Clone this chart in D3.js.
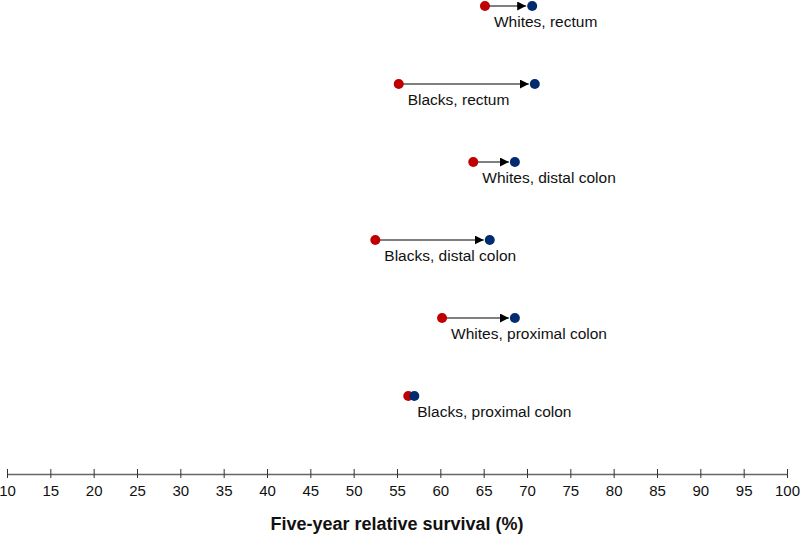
<!DOCTYPE html>
<html><head><meta charset="utf-8">
<script src="https://cdn.jsdelivr.net/npm/d3@7"></script>
<style>body{margin:0;background:#fff;}svg{display:block;font-family:"Liberation Sans",Arial,sans-serif;}</style>
</head><body><svg id="c" width="800" height="538"></svg>
<script>
const categories = ["Whites, rectum","Blacks, rectum","Whites, distal colon","Blacks, distal colon","Whites, proximal colon","Blacks, proximal colon"];
const startValues = [65.15, 55.2, 63.8, 52.5, 60.2, 56.3];
const endValues = [70.6, 70.9, 68.6, 65.7, 68.6, 57.0];
const tickValues = [10,15,20,25,30,35,40,45,50,55,60,65,70,75,80,85,90,95,100];
const axisTitle = "Five-year relative survival (%)";

const svg = d3.select("#c");
const x = d3.scaleLinear().domain([10,100]).range([7,787]);
const y = d3.scalePoint().domain(categories).range([6,396]);
const red = "#c00000", blue = "#002b6f";

svg.append("defs").append("marker").attr("id","ah").attr("viewBox","0 0 10 10")
  .attr("refX",10).attr("refY",5).attr("markerWidth",9).attr("markerHeight",9)
  .attr("markerUnits","userSpaceOnUse").attr("orient","auto")
  .append("path").attr("d","M0,0L10,5L0,10Z").attr("fill","#000");

const rows = categories.map((c,i)=>({c, s:startValues[i], e:endValues[i]}));
const g = svg.append("g");
rows.forEach(d=>{
  const x1 = x(d.s), x2 = x(d.e), yy = y(d.c);
  if (x2 - x1 > 15) {
    g.append("line").attr("x1",x1).attr("x2",x2-6).attr("y1",yy).attr("y2",yy)
      .attr("stroke","#000").attr("stroke-width",1.2).attr("marker-end","url(#ah)");
  }
  g.append("circle").attr("cx",x1).attr("cy",yy).attr("r",5).attr("fill",red);
  g.append("circle").attr("cx",x2).attr("cy",yy).attr("r",5).attr("fill",blue);
  g.append("text").attr("x",x1+9).attr("y",yy+20.5).attr("font-size",15.5).attr("fill","#111").text(d.c);
});

const ax = svg.append("g").attr("transform","translate(0,474)")
  .call(d3.axisBottom(x).tickValues(tickValues).tickSize(0).tickPadding(11));
ax.select(".domain").attr("stroke","#666").attr("stroke-width",1.5);
ax.selectAll(".tick text").attr("font-size",15).attr("fill","#111").attr("font-family","Liberation Sans, Arial, sans-serif");
ax.selectAll(".tick").append("line").attr("y1",-5).attr("y2",4).attr("stroke","#333");
svg.append("text").attr("x",397).attr("y",530).attr("text-anchor","middle")
  .attr("font-size",18).attr("font-weight","bold").attr("fill","#111").text(axisTitle);
</script></body></html>
